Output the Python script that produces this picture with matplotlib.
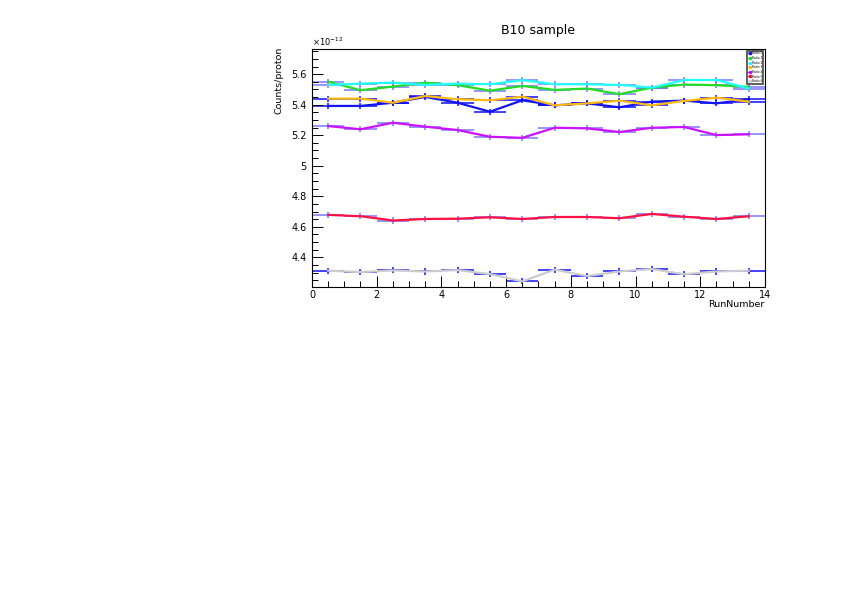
# -*- encoding: utf-8 -*-
'''
B10 sample, counts per proton for each run
'''
import numpy as np
import matplotlib.pyplot as plt
import matplotlib.ticker as mticker
from matplotlib.lines import Line2D

# %%
run = [0.5, 1.5, 2.5, 3.5, 4.5, 5.5, 6.5, 7.5, 8.5, 9.5, 10.5, 11.5, 12.5, 13.5]

ratio0 = [5.392, 5.392, 5.413, 5.451, 5.413, 5.354, 5.429, 5.396, 5.409, 5.383, 5.420, 5.427, 5.409, 5.436]
ratio1 = [5.551, 5.495, 5.519, 5.545, 5.528, 5.492, 5.523, 5.497, 5.506, 5.469, 5.512, 5.532, 5.528, 5.517]
ratio2 = [5.530, 5.538, 5.545, 5.530, 5.538, 5.534, 5.561, 5.534, 5.534, 5.530, 5.512, 5.562, 5.562, 5.506]
ratio3 = [5.440, 5.440, 5.413, 5.457, 5.436, 5.429, 5.453, 5.396, 5.409, 5.426, 5.396, 5.425, 5.446, 5.420]
ratio4 = [5.260, 5.239, 5.282, 5.256, 5.234, 5.190, 5.183, 5.249, 5.245, 5.221, 5.249, 5.254, 5.201, 5.206]
ratio5 = [4.678, 4.669, 4.641, 4.651, 4.653, 4.662, 4.651, 4.664, 4.664, 4.656, 4.684, 4.666, 4.651, 4.669]
ratio6 = [4.312, 4.303, 4.314, 4.307, 4.316, 4.290, 4.242, 4.319, 4.277, 4.307, 4.323, 4.289, 4.307, 4.312]

names = ['Ratio 0', 'Ratio 1', 'Ratio 2', 'Ratio 3', 'Ratio 4', 'Ratio 5', 'Ratio 6']
yerr = 0.02

# %%
fig = plt.figure(figsize=(8.42, 5.95), dpi=100)
ax = fig.add_axes([0.3705, 0.5176, 0.538, 0.4])

series = [ratio0, ratio1, ratio2, ratio3, ratio4, ratio5, ratio6]
colors = ['#1414f0', '#22dd22', '#22ffff', '#ffbb11', '#cc11ff', '#ff1144', '#cccccc']
bar_colors = ['#0000ff', '#7070ff', '#7070ff', '#0000ff', '#7070ff', '#7070ff', '#0000ff']

handles = []
for data, c, bc, name in zip(series, colors, bar_colors, names):
    # 误差棒, 画在折线下面
    ax.errorbar(run, data, xerr=0.5, yerr=yerr, fmt='none', ecolor=bc,
                elinewidth=1.3, alpha=0.8, zorder=1)
    ax.plot(run, data, color=c, lw=1.6, zorder=2)
    handles.append(Line2D([], [], color=c, lw=0.8, marker='s', ms=1.6,
                          label=name))

ax.set_xlim(0, 14)
ax.set_ylim(4.205, 5.765)

ax.xaxis.set_major_locator(mticker.MultipleLocator(2))
ax.xaxis.set_minor_locator(mticker.MultipleLocator(0.5))
ax.yaxis.set_major_locator(mticker.MultipleLocator(0.2))
ax.yaxis.set_minor_locator(mticker.MultipleLocator(0.05))
ax.yaxis.set_major_formatter(mticker.FuncFormatter(lambda v, p: '%g' % round(v, 2)))
ax.tick_params(which='both', direction='in', top=False, right=False,
               labelsize=7, pad=2)
ax.tick_params(axis='y', pad=4)
ax.tick_params(which='major', length=8, width=0.7)
ax.tick_params(which='minor', length=4, width=0.7)
for s in ax.spines.values():
    s.set_linewidth(0.8)

ax.text(0.0, 1.005, r'$\times10^{-12}$', transform=ax.transAxes,
        fontsize=6, ha='left', va='bottom')
ax.set_title('B10 sample', fontsize=9, pad=11)
ax.set_ylabel('Counts/proton', fontsize=6.8)
ax.yaxis.set_label_coords(-0.062, 1.01)
ax.yaxis.label.set_ha('right')
ax.set_xlabel('RunNumber', fontsize=6.8, labelpad=1)
ax.xaxis.set_label_coords(1.0, -0.055)
ax.xaxis.label.set_ha('right')

leg = ax.legend(handles=handles, loc='upper right', bbox_to_anchor=(1.0, 1.0),
                fontsize=2.2, handlelength=0.8, handletextpad=0.4,
                borderpad=0.3, labelspacing=0.2, fancybox=False,
                framealpha=1, edgecolor='#444444')
leg.get_frame().set_linewidth(1.2)

fig.savefig('out.png')
